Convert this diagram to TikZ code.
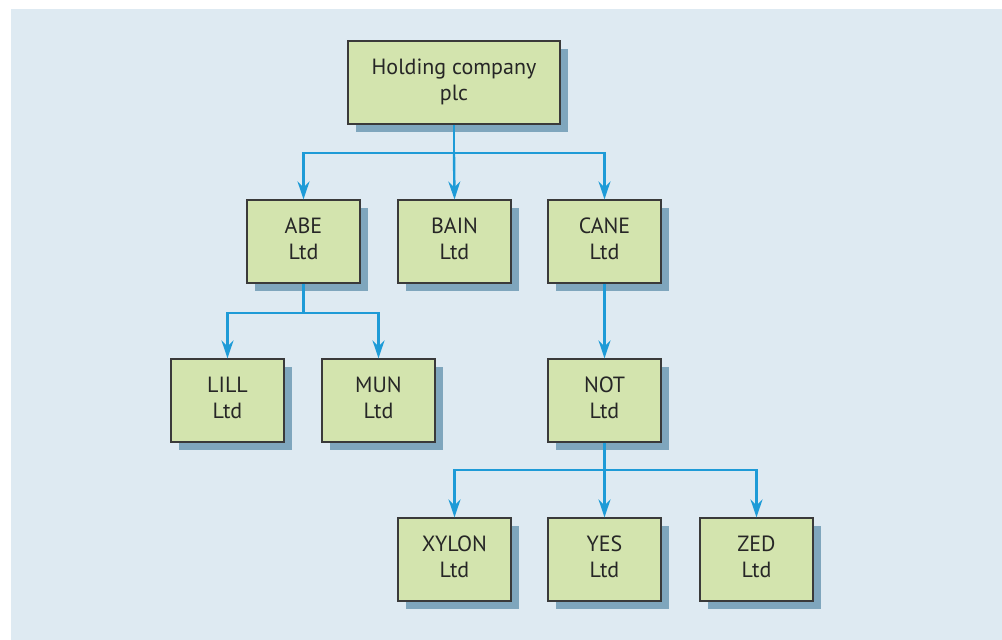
\documentclass[tikz,border=0pt]{standalone}
\usepackage{fontspec}
\setmainfont{PT Sans}
\usetikzlibrary{arrows.meta}
\definecolor{bgblue}{HTML}{DEEAF2}
\definecolor{boxgreen}{HTML}{D3E4AE}
\definecolor{shadowblue}{HTML}{7FA6BD}
\definecolor{linkblue}{HTML}{1E9BD7}
\definecolor{edgegray}{HTML}{3A3A3A}
% two strutted lines, so every box places its text the same way
\newcommand\firm[2]{\begin{tabular}{@{}c@{}}#1\\#2\end{tabular}}
\begin{document}
\begin{tikzpicture}[x=1pt,y=-1pt,
  company/.style={draw=edgegray, line width=1.2pt, fill=boxgreen,
    minimum width=113pt, minimum height=83pt, inner sep=0pt,
    font=\fontsize{22}{26}\selectfont, text=black!85},
  link/.style={draw=linkblue, line width=2.4pt,
    -{Stealth[length=18pt,width=12pt,inset=6pt]}},
  trunk/.style={draw=linkblue, line width=2.4pt}]
  % page and panel
  \useasboundingbox (0,0) rectangle (1002,640);
  \fill[white] (0,0) rectangle (1002,640);
  \fill[bgblue] (11,9) rectangle (1002,640);

  % drop shadows behind each box (offset 8pt right and down)
  \foreach \cx/\cy/\w in {454/82.5/212, 303.5/241.5/113, 454.5/241.5/113,
      604.5/241.5/113, 227.5/400.5/113, 378.5/400.5/113, 604.5/400.5/113,
      454.5/559.5/113, 604.5/559.5/113, 756.5/559.5/113}
    \fill[shadowblue] (\cx-\w/2+8,\cy-41.5+8) rectangle (\cx+\w/2+8,\cy+41.5+8);

  % companies
  \node[company, minimum width=212pt] (hold) at (454,82.5) {\firm{Holding company}{plc}};
  \node[company] (abe)  at (303.5,241.5) {\firm{ABE}{Ltd}};
  \node[company] (bain) at (454.5,241.5) {\firm{BAIN}{Ltd}};
  \node[company] (cane) at (604.5,241.5) {\firm{CANE}{Ltd}};
  \node[company] (lill) at (227.5,400.5) {\firm{LILL}{Ltd}};
  \node[company] (mun)  at (378.5,400.5) {\firm{MUN}{Ltd}};
  \node[company] (not)  at (604.5,400.5) {\firm{NOT}{Ltd}};
  \node[company] (xyl)  at (454.5,559.5) {\firm{XYLON}{Ltd}};
  \node[company] (yes)  at (604.5,559.5) {\firm{YES}{Ltd}};
  \node[company] (zed)  at (756.5,559.5) {\firm{ZED}{Ltd}};

  % branch points
  \coordinate (jh) at (454,153);
  \coordinate (ja) at (303.5,313);
  \coordinate (jn) at (604.5,470);

  % holding company -> first tier
  \draw[trunk] (hold.south) -- (jh);
  \draw[link] (jh) -| (abe.north);
  \draw[link] (jh) -- (bain.north);
  \draw[link] (jh) -| (cane.north);

  % ABE -> its subsidiaries
  \draw[trunk] (abe.south) -- (ja);
  \draw[link] (ja) -| (lill.north);
  \draw[link] (ja) -| (mun.north);

  % CANE -> NOT
  \draw[link] (cane.south) -- (not.north);

  % NOT -> its subsidiaries
  \draw[trunk] (not.south) -- (jn);
  \draw[link] (jn) -| (xyl.north);
  \draw[link] (jn) -- (yes.north);
  \draw[link] (jn) -| (zed.north);
\end{tikzpicture}
\end{document}
